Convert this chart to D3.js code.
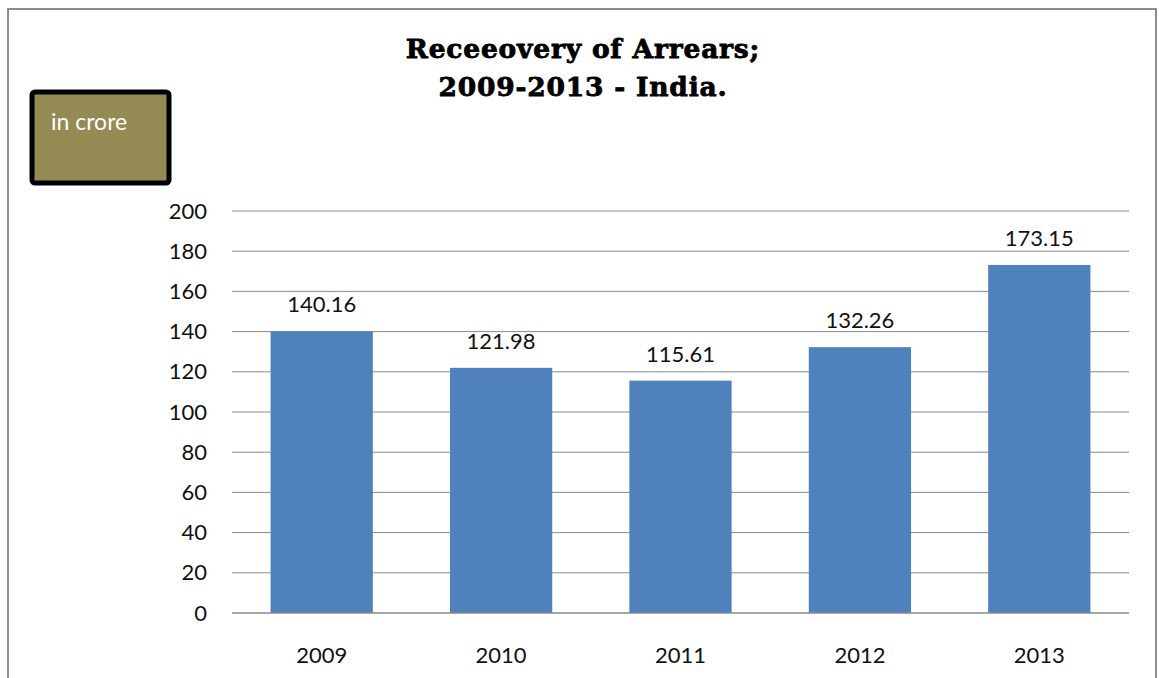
<!DOCTYPE html>
<html>
<head>
<meta charset="utf-8">
<script src="https://cdn.jsdelivr.net/npm/d3@7"></script>
<style>
  body { margin: 0; background: #fff; }
</style>
</head>
<body>
<div id="chart"></div>
<script>
'use strict';

var years = ['2009', '2010', '2011', '2012', '2013'];
var values = [140.16, 121.98, 115.61, 132.26, 173.15];
var yTicks = [0, 20, 40, 60, 80, 100, 120, 140, 160, 180, 200];
var titleLines = ['Receeovery of Arrears;', '2009-2013 - India.'];

var width = 1159,
    height = 678;

var plot = {left: 232, right: 1129, top: 211, bottom: 613};
var labelFont = 'Lato, "Open Sans", sans-serif';

var svg = d3.select('#chart').append('svg')
    .attr('width', width)
    .attr('height', height);

// outer frame
svg.append('rect')
    .attr('x', 8).attr('y', 9)
    .attr('width', 1148).attr('height', 700)
    .attr('fill', 'none')
    .attr('stroke', '#8c8c8c')
    .attr('stroke-width', 2);

var x = d3.scaleBand()
    .domain(years)
    .range([plot.left, plot.right])
    .paddingInner(0.43)
    .paddingOuter(0.215);

var y = d3.scaleLinear()
    .domain([0, 200])
    .range([plot.bottom, plot.top]);

// gridlines
svg.append('g')
    .selectAll('line')
    .data(yTicks.slice(1))
    .enter()
    .append('line')
    .attr('x1', plot.left)
    .attr('x2', plot.right)
    .attr('y1', function(d) { return y(d); })
    .attr('y2', function(d) { return y(d); })
    .attr('stroke', '#8a8a8a')
    .attr('stroke-width', 1);

// bars
svg.append('g')
    .selectAll('rect')
    .data(values)
    .enter()
    .append('rect')
    .attr('x', function(d, i) { return x(years[i]); })
    .attr('y', function(d) { return y(d); })
    .attr('width', x.bandwidth())
    .attr('height', function(d) { return y(0) - y(d); })
    .attr('fill', '#4f81bd');

// baseline
svg.append('line')
    .attr('x1', plot.left).attr('x2', plot.right)
    .attr('y1', y(0)).attr('y2', y(0))
    .attr('stroke', '#8a8a8a')
    .attr('stroke-width', 1.5);

// y axis labels
var yAxis = d3.axisLeft(y).tickValues(yTicks).tickSize(0).tickPadding(25);
var gy = svg.append('g')
    .attr('transform', 'translate(' + plot.left + ',0)')
    .call(yAxis);
gy.select('.domain').remove();
gy.selectAll('text')
    .attr('font-family', labelFont)
    .attr('font-size', 22)
    .attr('fill', '#111');

// x axis labels
var xAxis = d3.axisBottom(x).tickSize(0).tickPadding(34);
var gx = svg.append('g')
    .attr('transform', 'translate(0,' + plot.bottom + ')')
    .call(xAxis);
gx.select('.domain').remove();
gx.selectAll('text')
    .attr('font-family', labelFont)
    .attr('font-size', 22)
    .attr('fill', '#111');

// data labels
svg.append('g')
    .selectAll('text')
    .data(values)
    .enter()
    .append('text')
    .attr('x', function(d, i) { return x(years[i]) + x.bandwidth() / 2; })
    .attr('y', function(d) { return y(d) - 19; })
    .attr('text-anchor', 'middle')
    .attr('font-family', labelFont)
    .attr('font-size', 22)
    .attr('fill', '#111')
    .text(function(d) { return d.toFixed(2); });

// title
svg.append('g')
    .selectAll('text')
    .data(titleLines)
    .enter()
    .append('text')
    .attr('x', 583)
    .attr('y', function(d, i) { return 58 + i * 38; })
    .attr('text-anchor', 'middle')
    .attr('font-family', '"DejaVu Serif", serif')
    .attr('font-weight', 'bold')
    .attr('font-size', 26.5)
    .attr('letter-spacing', 0.8)
    .attr('fill', '#000')
    .attr('stroke', '#000')
    .attr('stroke-width', 0.8)
    .text(function(d) { return d; });

// unit box
svg.append('rect')
    .attr('x', 32).attr('y', 92)
    .attr('width', 137).attr('height', 91)
    .attr('rx', 3)
    .attr('fill', '#948a54')
    .attr('stroke', '#000')
    .attr('stroke-width', 5);

svg.append('text')
    .attr('x', 51).attr('y', 130)
    .attr('font-family', labelFont)
    .attr('font-size', 23)
    .attr('fill', '#fff')
    .text('in crore');
</script>
</body>
</html>
